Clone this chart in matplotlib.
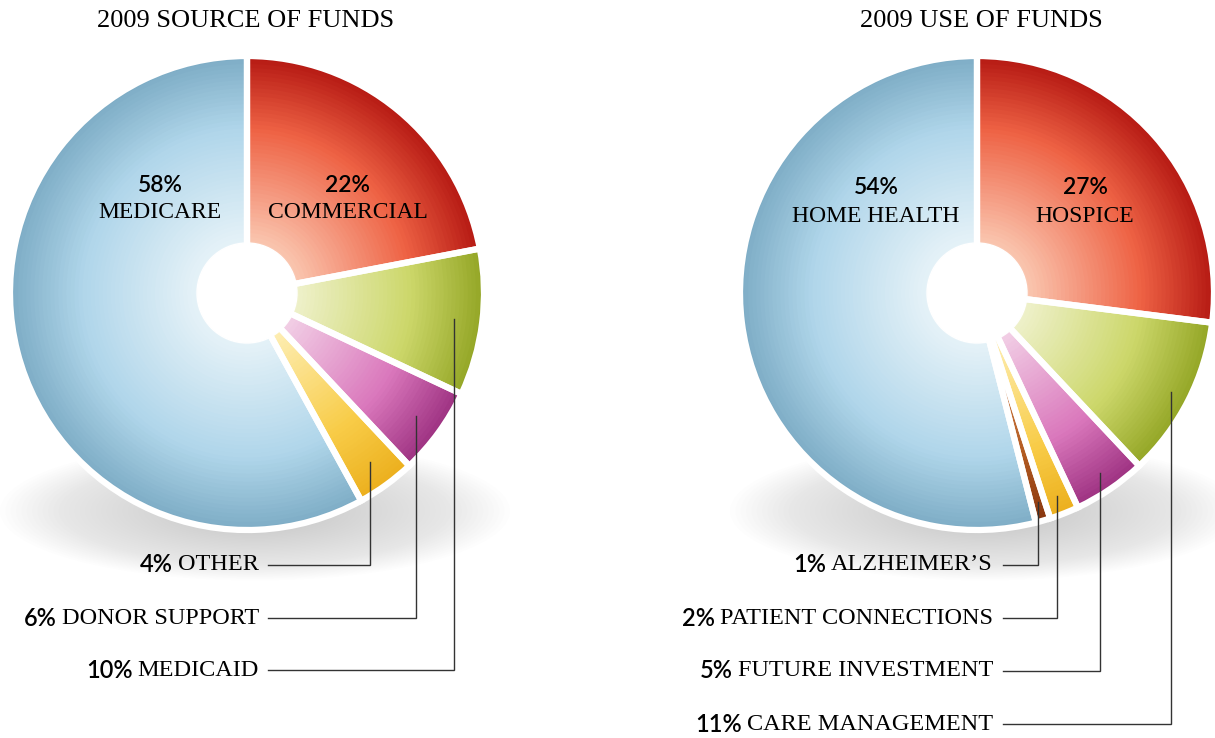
import numpy as np
import matplotlib.pyplot as plt
from matplotlib.colors import LinearSegmentedColormap
from matplotlib.patches import Circle, Ellipse

# 2009 source of funds, clockwise from 12 o'clock
src_labels = ['COMMERCIAL', 'MEDICAID', 'DONOR SUPPORT', 'OTHER', 'MEDICARE']
src_values = [22, 10, 6, 4, 58]
src_colors = ['red', 'green', 'purple', 'yellow', 'blue']
src_inside = ['MEDICARE', 'COMMERCIAL']
src_callouts = ['OTHER', 'DONOR SUPPORT', 'MEDICAID']

# 2009 use of funds, clockwise from 12 o'clock
use_labels = ['HOSPICE', 'CARE MANAGEMENT', 'FUTURE INVESTMENT',
              'PATIENT CONNECTIONS', 'ALZHEIMER’S', 'HOME HEALTH']
use_values = [27, 11, 5, 2, 1, 54]
use_colors = ['red', 'green', 'purple', 'yellow', 'brown', 'blue']
use_inside = ['HOME HEALTH', 'HOSPICE']
use_callouts = ['ALZHEIMER’S', 'PATIENT CONNECTIONS', 'FUTURE INVESTMENT', 'CARE MANAGEMENT']

# colour ramps: centre -> middle -> rim
ramps = {
    'blue':   ['#e6f2f8', '#b0d6ea', '#7eadc6'],
    'red':    ['#fac8b2', '#ee6244', '#b61a14'],
    'green':  ['#eff1cc', '#ccd76a', '#94a626'],
    'purple': ['#f2d0e6', '#da78bc', '#9e3282'],
    'yellow': ['#fdeeb4', '#f8cc48', '#ecb01e'],
    'brown':  ['#d89060', '#b45c22', '#8a3810'],
}
cmaps = {k: LinearSegmentedColormap.from_list(k, [(0, v[0]), (0.62, v[1]), (1, v[2])])
         for k, v in ramps.items()}

W, H = 1215, 738
R, HOLE = 237, 50
serif = 'Liberation Serif'
sans = 'Lato'

fig = plt.figure(figsize=(W / 100, H / 100), dpi=100)
ax = fig.add_axes([0, 0, 1, 1])
ax.set_xlim(0, W)
ax.set_ylim(0, H)
ax.set_autoscale_on(False)
ax.axis('off')


def Y(y):
    # image row -> data y
    return H - y


def draw_donut(cx, cy, values, colors):
    c = (cx, Y(cy))
    # soft shadow under the disc
    for k in range(45):
        s = 1 - k / 45
        ax.add_patch(Ellipse((cx + 8, Y(cy + 218)), 480 * s + 30, 125 * s + 14,
                             color='#a8a8a8', alpha=0.017, lw=0, zorder=1))
    # radial shading, drawn rim first
    n = 50
    h = HOLE / R
    for k in range(n):
        f = 1 - k / (n - 1) * (1 - h * 0.8)
        s = (f - h) / (1 - h)
        cols = [cmaps[cn](np.clip(s, 0, 1)) for cn in colors]
        ax.pie(values, radius=R * f, center=c, startangle=90, counterclock=False,
               colors=cols, frame=True, wedgeprops=dict(linewidth=0, zorder=2))
    # white gaps between slices
    ax.pie(values, radius=R, center=c, startangle=90, counterclock=False,
           colors=['none'] * len(values), frame=True,
           wedgeprops=dict(edgecolor='white', linewidth=4.5, zorder=3))
    ax.add_patch(Circle(c, HOLE, color='white', zorder=4))


def mid_angle(values, i):
    before = sum(values[:i])
    return np.deg2rad(90 - 3.6 * (before + values[i] / 2))


def two_font_label(x, y, pct, name, size=17.5):
    r = fig.canvas.get_renderer()
    t = ax.text(x, Y(y), name, ha='right', va='center', fontsize=size,
                family=serif, zorder=6)
    bb = t.get_window_extent(r)
    x0 = ax.transData.inverted().transform((bb.x0, bb.y0))[0]
    ax.text(x0 - 5, Y(y), pct, ha='right', va='center', fontsize=size - 0.5,
            family=sans, fontweight='semibold', zorder=6)


def inside_labels(pos, names, labels, values):
    for (x, y), name in zip(pos, names):
        v = values[labels.index(name)]
        ax.text(x, Y(y), f'{v}%', ha='center', va='center', fontsize=16.5,
                family=sans, fontweight='semibold', zorder=6)
        ax.text(x, Y(y + 28), name, ha='center', va='center', fontsize=17,
                family=serif, zorder=6)


def callouts(cx, cy, labels, values, names, text_x, line_x, rows, frac):
    for name, ry in zip(names, rows):
        i = labels.index(name)
        a = mid_angle(values, i)
        px = cx + frac * R * np.cos(a)
        py = Y(cy) + frac * R * np.sin(a)
        ax.plot([line_x, px, px], [Y(ry), Y(ry), py], color='#333333', lw=1.0,
                zorder=5, solid_joinstyle='miter')
        two_font_label(text_x, ry, f'{values[i]}%', name)


# left: source of funds
draw_donut(247, 293, src_values, src_colors)
ax.text(246, Y(21), '2009 SOURCE OF FUNDS', ha='center', va='center',
        fontsize=19, family=serif)
inside_labels([(160, 185), (348, 185)], src_inside, src_labels, src_values)
callouts(247, 293, src_labels, src_values, src_callouts, 259, 268,
         [565, 618, 670], 0.88)

# right: use of funds
draw_donut(977, 293, use_values, use_colors)
ax.text(981, Y(21), '2009 USE OF FUNDS', ha='center', va='center',
        fontsize=19, family=serif)
inside_labels([(876, 188), (1085, 188)], use_inside, use_labels, use_values)
callouts(977, 293, use_labels, use_values, use_callouts, 993, 1003,
         [565, 618, 671, 724], 0.92)

fig.savefig('out.png', dpi=100, facecolor='white')
